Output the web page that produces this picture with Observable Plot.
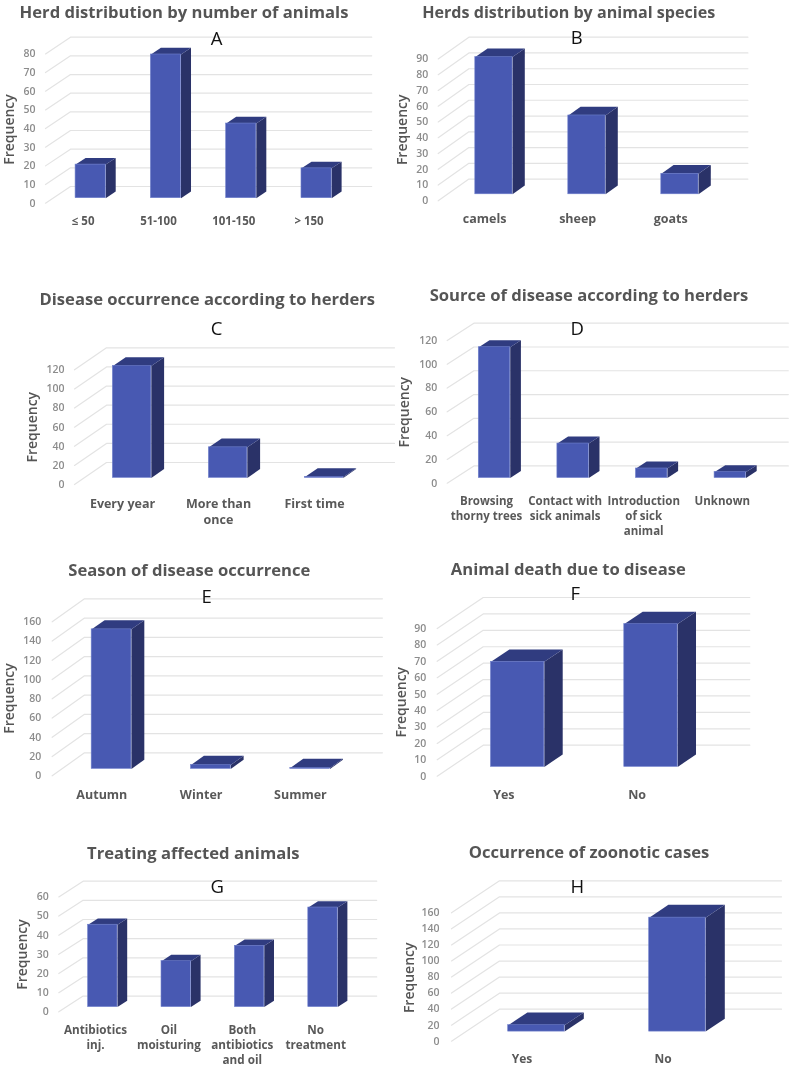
<!DOCTYPE html>
<html>
<head>
<meta charset="utf-8">
<script src="https://cdn.jsdelivr.net/npm/d3@7"></script>
<script src="https://cdn.jsdelivr.net/npm/@observablehq/plot@0.6"></script>
<style>
  html, body { margin: 0; padding: 0; background: #fff; }
  #page { position: relative; width: 789px; height: 1066px; overflow: hidden; font-family: "Open Sans", sans-serif; filter: blur(0.3px); }
  #page svg { position: absolute; }
  .title { position: absolute; transform: translate(-50%, -50%); white-space: nowrap; font-weight: 700; color: #555; z-index: 2; line-height: 1; }
  .letter { position: absolute; transform: translate(-50%, -50%); font-size: 18.5px; color: #111; z-index: 2; line-height: 1; }
</style>
</head>
<body>
<div id="page"></div>
<script>
// ---- Data ----
const herdSizeCategories = ["≤ 50", "51-100", "101-150", "> 150"];
const herdSizeValues = [18, 77, 40, 16];
const speciesCategories = ["camels", "sheep", "goats"];
const speciesValues = [87, 50, 13];
const occurrenceCategories = ["Every year", "More than\nonce", "First time"];
const occurrenceValues = [117, 32, 1];
const sourceCategories = ["Browsing\nthorny trees", "Contact with\nsick animals", "Introduction\nof sick\nanimal", "Unknown"];
const sourceValues = [110, 29, 8, 5];
const seasonCategories = ["Autumn", "Winter", "Summer"];
const seasonValues = [145, 4, 1];
const deathCategories = ["Yes", "No"];
const deathValues = [64, 87];
const treatmentCategories = ["Antibiotics\ninj.", "Oil\nmoisturing", "Both\nantibiotics\nand oil", "No\ntreatment"];
const treatmentValues = [43, 24, 32, 52];
const zoonoticCategories = ["Yes", "No"];
const zoonoticValues = [8, 142];

const titles = [
  "Herd distribution by number of animals", "Herds distribution by animal species",
  "Disease occurrence according to herders", "Source of disease according to herders",
  "Season of disease occurrence", "Animal death due to disease",
  "Treating affected animals", "Occurrence of zoonotic cases"
];
const letters = ["A", "B", "C", "D", "E", "F", "G", "H"];
const axisMax = [80, 90, 120, 120, 160, 90, 60, 160];
const axisStep = [10, 10, 20, 20, 20, 10, 10, 20];
const categories = [herdSizeCategories, speciesCategories, occurrenceCategories, sourceCategories, seasonCategories, deathCategories, treatmentCategories, zoonoticCategories];
const values = [herdSizeValues, speciesValues, occurrenceValues, sourceValues, seasonValues, deathValues, treatmentValues, zoonoticValues];

// ---- Layout (page pixels) ----
const boxes = [
  {l:0,t:0,w:395,h:280},{l:395,t:0,w:394,h:280},
  {l:0,t:280,w:395,h:270},{l:395,t:280,w:394,h:270},
  {l:0,t:550,w:395,h:280},{l:395,t:550,w:394,h:280},
  {l:0,t:830,w:395,h:236},{l:395,t:830,w:394,h:236}
];
const layout = [
  {x0:45,   y0:202.7, yTop:36.7,  sp:75.3, dX:25,   dY:16.7, tf:16.6, title:[184,11.5],  let:[216.7,37.7],  freq:[9.3,129],   xf:11.5, pad:10, xPad:11},
  {x0:437.7,y0:200.3, yTop:36.7,  sp:93,   dX:30.7, dY:21.7, tf:16.1, title:[568.7,11.5],let:[576.7,37.3],  freq:[401.7,129.3],xf:12.5, pad:10, xPad:11},
  {x0:74,   y0:484,   yTop:347.3, sp:96,   dX:32,   dY:22,   tf:16.6, title:[207.3,299.3],let:[216.7,327.7], freq:[31.7,426.7],xf:12.5, pad:10, xPad:11.5},
  {x0:446.7,y0:482.7, yTop:322.7, sp:78.6, dX:26.7, dY:17.3, tf:16.6, title:[589,295],   let:[577.3,327.7], freq:[404.3,411.7],xf:11.5, pad:10, xPad:11},
  {x0:51.7, y0:775.3, yTop:598.3, sp:99.3, dX:32.3, dY:23,   tf:16.6, title:[189.3,570], let:[206.7,595.7], freq:[9.3,698],   xf:12.5, pad:11, xPad:12},
  {x0:436.7,y0:775.7, yTop:597,   sp:133.3,dX:46,   dY:31,   tf:16.6, title:[568.3,569], let:[575.3,592.7], freq:[401,701.7], xf:12.5, pad:11, xPad:11},
  {x0:58.3, y0:1011.3,yTop:880.7, sp:73.4, dX:24.3, dY:15.7, tf:16.6, title:[193.3,852.7],let:[217.3,886],  freq:[21.7,954],  xf:11.7, pad:10, xPad:11},
  {x0:451,  y0:1040.7,yTop:880.3, sp:141,  dX:48,   dY:32,   tf:16.6, title:[589,852.3], let:[577.3,886],   freq:[409,977.3], xf:12,   pad:12, xPad:11}
];
const barWidth = 0.4, barZ0 = 0.3, barZ1 = 0.7;
const colors = {front:"#4859b2", top:"#303c80", side:"#2a3268", edge:"#7080cc", grid:"#e3e3e3", yTick:"#8c8c8c", xTick:"#595959", freq:"#555555"};

const page = document.getElementById("page");

titles.forEach((title, k) => {
  const box = boxes[k], lay = layout[k], cats = categories[k], vals = values[k];
  const vmax = axisMax[k], step = axisStep[k], n = cats.length;
  const ppu = (lay.y0 - lay.dY - lay.yTop) / vmax;
  const zx = lay.dX / lay.sp, zy = lay.dY / ppu;
  const ticks = d3.range(0, vmax + step, step);
  const centers = cats.map((_, i) => i + 0.5);

  const grid = ticks.flatMap(v => [
    {v, x: 0, y: v}, {v, x: zx, y: v + zy}, {v, x: n + zx, y: v + zy}
  ]);
  const bars = vals.map((v, i) => ({
    i, v,
    a: i + 0.5 - barWidth / 2,
    b: i + 0.5 + barWidth / 2
  }));
  const side = bars.flatMap(d => [
    {i:d.i, x:d.b + barZ0*zx, y:barZ0*zy},
    {i:d.i, x:d.b + barZ1*zx, y:barZ1*zy},
    {i:d.i, x:d.b + barZ1*zx, y:d.v + barZ1*zy},
    {i:d.i, x:d.b + barZ0*zx, y:d.v + barZ0*zy}
  ]);
  const top = bars.flatMap(d => [
    {i:d.i, x:d.a + barZ0*zx, y:d.v + barZ0*zy},
    {i:d.i, x:d.b + barZ0*zx, y:d.v + barZ0*zy},
    {i:d.i, x:d.b + barZ1*zx, y:d.v + barZ1*zy},
    {i:d.i, x:d.a + barZ1*zx, y:d.v + barZ1*zy}
  ]);

  const marginLeft = lay.x0 - box.l;
  const marginTop = lay.yTop - box.t;
  const marginBottom = box.t + box.h - lay.y0;
  const marginRight = Math.max(0, box.w - marginLeft - n * lay.sp - lay.dX);
  const frameCenterY = marginTop + (box.h - marginTop - marginBottom) / 2;

  const svg = Plot.plot({
    width: box.w, height: box.h,
    marginLeft, marginTop, marginBottom, marginRight,
    style: {background: "transparent", overflow: "visible", fontFamily: '"Open Sans", sans-serif'},
    x: {domain: [0, n + zx], axis: null},
    y: {domain: [0, vmax + zy], axis: null},
    marks: [
      Plot.line(grid, {x: "x", y: "y", z: "v", stroke: colors.grid, strokeWidth: 1.2}),
      Plot.line(side, {x: "x", y: "y", z: "i", fill: colors.side, stroke: "none"}),
      Plot.line(top, {x: "x", y: "y", z: "i", fill: colors.top, stroke: "none"}),
      Plot.rect(bars, {
        x1: d => d.a + barZ0*zx, x2: d => d.b + barZ0*zx,
        y1: () => barZ0*zy, y2: d => d.v + barZ0*zy,
        fill: colors.front, stroke: colors.edge, strokeWidth: 0.6
      }),
      Plot.axisY({
        ticks, anchor: "left", tickSize: 0, tickPadding: lay.pad, label: null,
        fontSize: 10.5, fontWeight: 600, fill: colors.yTick
      }),
      Plot.axisX({
        ticks: centers, anchor: "bottom", tickSize: 0, tickPadding: lay.xPad, label: null,
        tickFormat: c => cats[Math.round(c - 0.5)], lineAnchor: "top", lineHeight: 1.3,
        fontSize: lay.xf, fontWeight: 700, fill: colors.xTick
      }),
      Plot.text(["Frequency"], {
        frameAnchor: "left", textAnchor: "middle", rotate: -90,
        dx: lay.freq[0] - lay.x0, dy: lay.freq[1] - box.t - frameCenterY,
        fontSize: 14, fontWeight: 600, fill: colors.freq
      })
    ]
  });
  svg.style.left = box.l + "px";
  svg.style.top = box.t + "px";
  page.appendChild(svg);

  const t = document.createElement("div");
  t.className = "title";
  t.textContent = title;
  t.style.left = lay.title[0] + "px";
  t.style.top = lay.title[1] + "px";
  t.style.fontSize = lay.tf + "px";
  page.appendChild(t);

  const l = document.createElement("div");
  l.className = "letter";
  l.textContent = letters[k];
  l.style.left = lay.let[0] + "px";
  l.style.top = lay.let[1] + "px";
  page.appendChild(l);
});
</script>
</body>
</html>
